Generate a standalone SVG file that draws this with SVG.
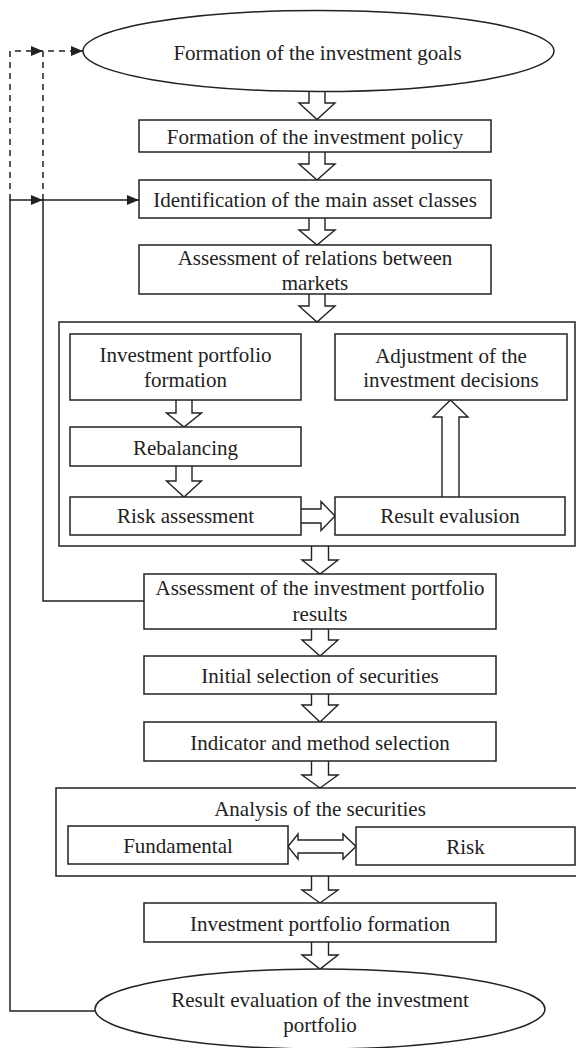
<svg xmlns="http://www.w3.org/2000/svg" width="576" height="1048" viewBox="0 0 576 1048">
  <style>
    .box { fill: #fff; stroke: #222; stroke-width: 1.5; }
    .frame { fill: none; stroke: #222; stroke-width: 1.5; }
    .blk { fill: #fff; stroke: #222; stroke-width: 1.4; stroke-linejoin: miter; }
    .ln { fill: none; stroke: #222; stroke-width: 1.5; }
    .dash { stroke-dasharray: 6 5; }
    .lbl { font-size: 21px; fill: #222; text-anchor: middle; }
  </style>
  <defs>
    <marker id="tri" markerUnits="userSpaceOnUse" markerWidth="12" markerHeight="10" viewBox="0 0 12 10" refX="12" refY="5" orient="auto">
      <path d="M0,0 L12,5 L0,10 Z" fill="#222" stroke="none"/>
    </marker>
  </defs>

  <rect width="576" height="1048" fill="#fff"/>

  <!-- feedback connectors on the left -->
  <g id="connectors">
    <path class="ln dash" d="M10,200 V51 H43" marker-end="url(#tri)"/>
    <path class="ln dash" d="M43,200 V51 H83" marker-end="url(#tri)"/>
    <path class="ln" d="M95,1011 H10 V200 H43" marker-end="url(#tri)"/>
    <path class="ln" d="M144,601 H43 V200 H139" marker-end="url(#tri)"/>

    <!-- hollow block arrows -->
    <path class="blk" d="M309,91 V103 H299 L317,119.5 L335,103 H325 V91"/>
    <path class="blk" d="M309,152 V164 H299 L317,180 L335,164 H325 V152"/>
    <path class="blk" d="M309,218 V230 H299 L317,245 L335,230 H325 V218"/>
    <path class="blk" d="M309,294 V306 H299 L317,322 L335,306 H325 V294"/>
    <path class="blk" d="M176,400 V413 H166.5 L184,427 L201.5,413 H192 V400"/>
    <path class="blk" d="M176,466 V481 H166.5 L184,497 L201.5,481 H192 V466"/>
    <path class="blk" d="M442,497 V417 H433 L450.5,400 L468,417 H459 V497"/>
    <path class="blk" d="M301,509 H321 V501.5 L335,516 L321,530.5 V523 H301"/>
    <path class="blk" d="M311.5,546 V560 H302 L320,574 L338,560 H328.5 V546"/>
    <path class="blk" d="M311.5,629 V640 H302 L320,656 L338,640 H328.5 V629"/>
    <path class="blk" d="M311.5,694 V705 H302 L320,722 L338,705 H328.5 V694"/>
    <path class="blk" d="M311.5,761 V775 H302 L320,788 L338,775 H328.5 V761"/>
    <path class="blk" d="M311.5,876 V890 H302 L320,903 L338,890 H328.5 V876"/>
    <path class="blk" d="M311.5,942 V955 H302 L320,969 L338,955 H328.5 V942"/>
    <path class="blk" d="M288,846.5 L298,834 V840 H343 V834 L356,846.5 L343,859 V853 H298 V859 Z"/>
  </g>

  <g font-family="'Liberation Serif', 'DejaVu Serif', serif">
  <g id="goals">
    <ellipse class="box" cx="318.5" cy="51" rx="235.5" ry="40.5"/>
    <text class="lbl" x="317.5" y="60">Formation of the investment goals</text>
  </g>

  <g id="policy">
    <rect class="box" x="139" y="120" width="352" height="32"/>
    <text class="lbl" x="315" y="144">Formation of the investment policy</text>
  </g>

  <g id="asset-classes">
    <rect class="box" x="139" y="180" width="352" height="38"/>
    <text class="lbl" x="315" y="207">Identification of the main asset classes</text>
  </g>

  <g id="market-relations">
    <rect class="box" x="139" y="245" width="352" height="49"/>
    <text class="lbl" x="315" y="265">Assessment of relations between</text>
    <text class="lbl" x="315" y="290">markets</text>
  </g>

  <!-- portfolio management cycle -->
  <g id="cycle">
    <rect class="frame" x="59" y="322" width="516" height="224"/>
  </g>

  <g id="portfolio-formation-inner">
    <rect class="box" x="70" y="334" width="231" height="66"/>
    <text class="lbl" x="185.5" y="362">Investment portfolio</text>
    <text class="lbl" x="185.5" y="387">formation</text>
  </g>

  <g id="rebalancing">
    <rect class="box" x="70" y="427" width="231" height="39"/>
    <text class="lbl" x="185.5" y="455">Rebalancing</text>
  </g>

  <g id="risk-assessment">
    <rect class="box" x="70" y="497" width="231" height="38"/>
    <text class="lbl" x="185.5" y="523">Risk assessment</text>
  </g>

  <g id="adjustment">
    <rect class="box" x="335" y="334" width="232" height="66"/>
    <text class="lbl" x="451" y="363">Adjustment of the</text>
    <text class="lbl" x="451" y="387">investment decisions</text>
  </g>

  <g id="result-evalusion">
    <rect class="box" x="335" y="497" width="230" height="38"/>
    <text class="lbl" x="450" y="523">Result evalusion</text>
  </g>

  <g id="portfolio-results">
    <rect class="box" x="144" y="574" width="352" height="55"/>
    <text class="lbl" x="320" y="595">Assessment of the investment portfolio</text>
    <text class="lbl" x="320" y="621">results</text>
  </g>

  <g id="initial-selection">
    <rect class="box" x="144" y="656" width="352" height="38"/>
    <text class="lbl" x="320" y="683">Initial selection of securities</text>
  </g>

  <g id="indicator-selection">
    <rect class="box" x="144" y="722" width="352" height="39"/>
    <text class="lbl" x="320" y="750">Indicator and method selection</text>
  </g>

  <g id="securities-analysis">
    <rect class="frame" x="56" y="788" width="522" height="88"/>
    <text class="lbl" x="320" y="816">Analysis of the securities</text>
  </g>

  <g id="fundamental">
    <rect class="box" x="68" y="826" width="220" height="38"/>
    <text class="lbl" x="178" y="853">Fundamental</text>
  </g>

  <g id="risk">
    <rect class="box" x="356" y="827" width="219" height="38"/>
    <text class="lbl" x="465.5" y="854">Risk</text>
  </g>

  <g id="portfolio-formation">
    <rect class="box" x="144" y="903" width="352" height="39"/>
    <text class="lbl" x="320" y="931">Investment portfolio formation</text>
  </g>

  <g id="result-evaluation">
    <ellipse class="box" cx="320" cy="1009" rx="225" ry="40"/>
    <text class="lbl" x="320" y="1007">Result evaluation of the investment</text>
    <text class="lbl" x="320" y="1032">portfolio</text>
  </g>
  </g>
</svg>
